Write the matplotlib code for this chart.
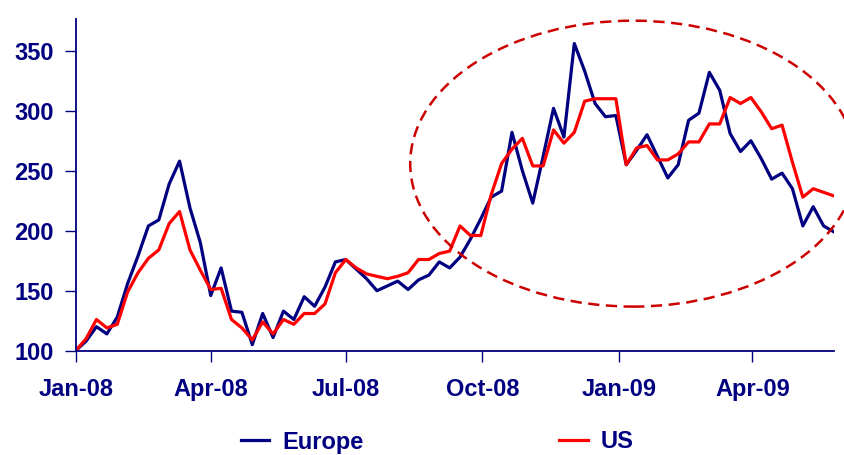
import numpy as np
import pandas as pd
import matplotlib
matplotlib.use('Agg')
from matplotlib import pyplot as plt
import matplotlib.dates as mdates
from matplotlib.patches import Ellipse

# weekly index values, rebased to 100 at the start of Jan-08
europe = [100, 108, 120, 114, 128, 156, 179, 204, 209, 239,
          258, 219, 190, 146, 169, 133, 132, 105, 131, 111,
          133, 126, 145, 137, 153, 174, 176, 168, 160, 150,
          154, 158, 151, 159, 163, 174, 169, 178, 193, 210,
          228, 233, 282, 250, 223, 262, 302, 278, 356, 333,
          306, 295, 296, 255, 267, 280, 262, 244, 255, 292,
          298, 332, 317, 281, 266, 275, 260, 243, 248, 235,
          204, 220, 204, 199]
us = [100, 110, 126, 119, 122, 149, 165, 177, 184, 206,
      216, 184, 167, 151, 152, 126, 119, 109, 124, 114,
      126, 122, 131, 131, 139, 165, 176, 169, 164, 162,
      160, 162, 165, 176, 176, 181, 183, 204, 196, 196,
      230, 256, 268, 277, 254, 254, 284, 273, 282, 308,
      310, 310, 310, 255, 269, 271, 259, 259, 264, 274,
      274, 289, 289, 311, 306, 311, 299, 285, 288, 257,
      228, 235, 232, 229]
dates = pd.date_range('2008-01-01', periods=len(europe), freq='7D')

navy = '#000080'

plt.rcParams['font.family'] = ['Liberation Sans', 'DejaVu Sans']
plt.rcParams['font.weight'] = 'bold'

fig = plt.figure(figsize=(8.44, 4.55), dpi=100)
ax = fig.add_axes([75.7 / 844, 1 - 350.7 / 455, (834 - 75.7) / 844, (350.7 - 18.7) / 455])

ax.plot(dates, europe, color=navy, lw=2.3, label='Europe')
ax.plot(dates, us, color='#FF0000', lw=2.3, label='US')

ax.set_xlim(dates[0], dates[-1])
ax.set_ylim(100, 376.7)
ax.set_yticks(np.arange(100, 351, 50))
ax.xaxis.set_major_locator(mdates.MonthLocator(bymonth=[1, 4, 7, 10]))
ax.xaxis.set_major_formatter(mdates.DateFormatter('%b-%y'))

for s in ['top', 'right']:
    ax.spines[s].set_visible(False)
for s in ['left', 'bottom']:
    ax.spines[s].set_color(navy)
    ax.spines[s].set_linewidth(1.3)
ax.tick_params(axis='both', colors=navy, length=8, width=1, labelsize=17)
ax.tick_params(axis='y', pad=8)
ax.tick_params(axis='x', pad=12)

# dashed ring around the late-2008 / 2009 spike
centre = mdates.date2num(pd.Timestamp('2009-01-10 16:00'))
ring = Ellipse((centre, 255.9), width=300.5, height=238.3, fill=False,
               edgecolor='#CC0000', lw=1.8, linestyle=(0, (4.5, 2.6)),
               clip_on=False, zorder=5)
ax.add_patch(ring)

fig.legend(loc='center', bbox_to_anchor=(437 / 844, 1 - 442 / 455), ncol=2,
           frameon=False, handlelength=1.2, handletextpad=0.55,
           columnspacing=8.3, fontsize=17, labelcolor=navy)

fig.savefig('out.png', dpi=100)
